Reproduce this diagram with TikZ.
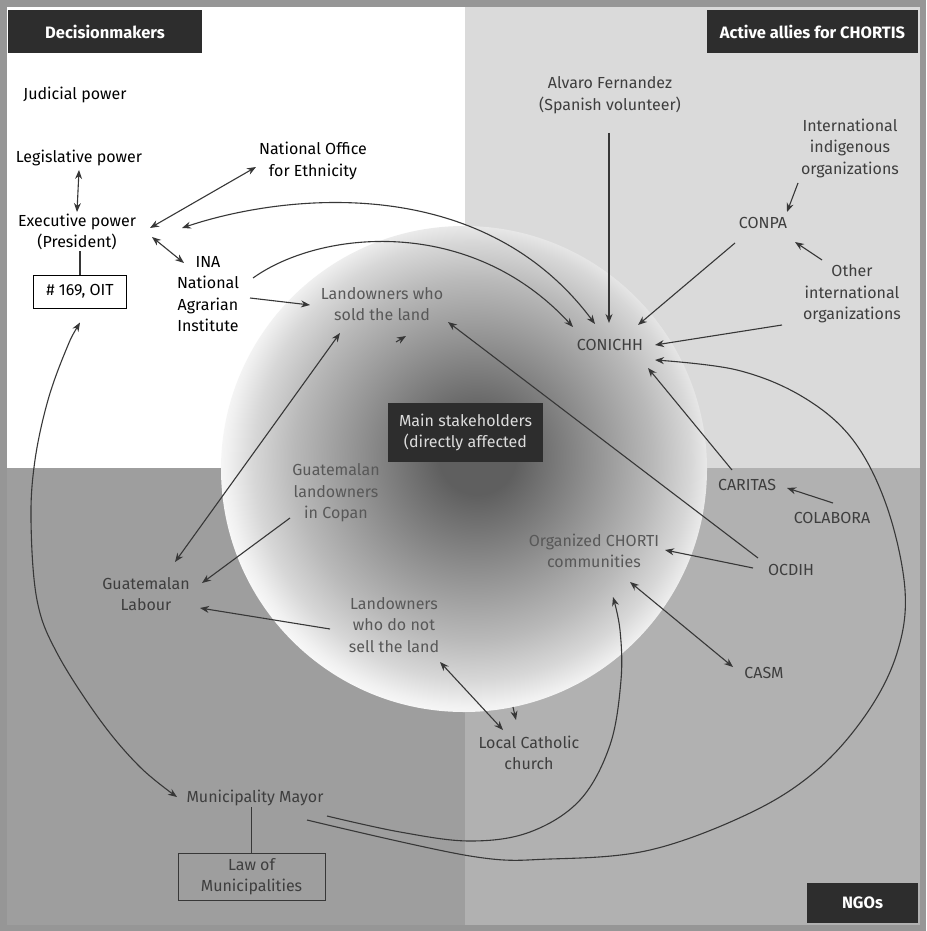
\documentclass[tikz,border=0pt]{standalone}
\usepackage{fontspec}
\setmainfont{Fira Sans}
\usetikzlibrary{arrows.meta,calc}
\definecolor{qtl}{RGB}{255,255,255}
\definecolor{qtr}{RGB}{218,218,218}
\definecolor{qbl}{RGB}{158,158,158}
\definecolor{qbr}{RGB}{177,177,177}
\definecolor{frm}{RGB}{150,150,150}
\definecolor{hdr}{RGB}{45,45,45}
\definecolor{ink}{RGB}{55,55,55}
\definecolor{dtext}{RGB}{62,62,62}
\definecolor{stext}{RGB}{88,88,88}
\definecolor{sphA}{RGB}{95,95,95}
\definecolor{sphB}{RGB}{145,145,145}
\definecolor{sphC}{RGB}{185,185,185}
\definecolor{sphD}{RGB}{215,215,215}
\definecolor{sphE}{RGB}{240,240,240}
\definecolor{mtext}{RGB}{220,220,220}
\pgfdeclareradialshading{sphereshade}{\pgfpoint{1.5bp}{1.5bp}}{color(0bp)=(sphA); color(4bp)=(sphA); color(12bp)=(sphB); color(18.5bp)=(sphC); color(22.5bp)=(sphD); color(25bp)=(sphE); color(27bp)=(white); color(50bp)=(white)}
\tikzset{
  labk/.style={font=\fontsize{16}{21.5}\selectfont, align=center, inner sep=1pt, text=black},
  labd/.style={font=\fontsize{16}{21.5}\selectfont, align=center, inner sep=1pt, text=dtext},
  labs/.style={font=\fontsize{16}{21.5}\selectfont, align=center, inner sep=1pt, text=stext},
  hdrbox/.style={fill=hdr, text=white, font=\bfseries\fontsize{16.5}{18}\selectfont, inner sep=0pt},
  con/.style={draw=ink, line width=1.1pt},
  ar/.style={con, -{Stealth[length=9pt,width=7pt]}},
  arr/.style={con, {Stealth[length=9pt,width=7pt]}-{Stealth[length=9pt,width=7pt]}},
}
\begin{document}
\begin{tikzpicture}[x=1pt,y=-1pt]
\useasboundingbox (0,0) rectangle (926,931);
% background and quadrants
\fill[frm] (0,0) rectangle (926,931);
\fill[qtl] (7,7) rectangle (465,468);
\fill[qtr] (465,7) rectangle (920,468);
\fill[qbl] (7,468) rectangle (465,925);
\fill[qbr] (465,468) rectangle (920,925);
% sphere
\shade[shading=sphereshade] (464,469) circle (243);
% headers
\node[hdrbox, minimum width=194, minimum height=43] (hdm) at (105,31.5) {Decisionmakers};
\node[hdrbox, minimum width=211, minimum height=43] (hal) at (812.5,31.5) {Active allies for CHORTIS};
\node[hdrbox, minimum width=111, minimum height=40] (hng) at (862.5,903) {NGOs};
\node[fill=hdr, text=mtext, font=\fontsize{16}{21.5}\selectfont, align=center, minimum width=155, minimum height=59, inner sep=0pt] (main) at (465.5,432.5) {Main stakeholders\\(directly affected};
% top-left nodes
\node[labk] (jud) at (75,95) {Judicial power};
\node[labk] (leg) at (79,158) {Legislative power};
\node[labk] (exe) at (77,232) {Executive power\\(President)};
\node[labk, draw=black, line width=1pt, fill=white, minimum width=93, minimum height=33] (oit) at (80,291.5) {\# 169, OIT};
\node[labk] (nof) at (313,161) {National Office\\for Ethnicity};
\node[labk] (ina) at (208,294) {INA\\National\\Agrarian\\Institute};
% top-right nodes
\node[labd] (alv) at (610,95) {Alvaro Fernandez\\(Spanish volunteer)};
\node[labd] (iio) at (850,148) {International\\indigenous\\organizations};
\node[labd] (conpa) at (763,223) {CONPA};
\node[labd] (oio) at (852,294) {Other\\international\\organizations};
\node[labd] (conichh) at (610,345) {CONICHH};
% sphere nodes
\node[labs] (lsold) at (382,304) {Landowners who\\sold the land};
\node[labs] (copan) at (336,493) {Guatemalan\\landowners\\in Copan};
\node[labs] (chorti) at (594,551) {Organized CHORTI\\communities};
\node[labs] (lnot) at (394,625) {Landowners\\who do not\\sell the land};
% bottom-left nodes
\node[labd] (labour) at (146,594) {Guatemalan\\Labour};
\node[labd] (mayor) at (255,798) {Municipality Mayor};
\node[labd, draw=ink, line width=1pt, minimum width=147, minimum height=47] (law) at (251.5,876.5) {Law of\\Municipalities};
% bottom-right nodes
\node[labd] (caritas) at (747,485) {CARITAS};
\node[labd] (colabora) at (832,518) {COLABORA};
\node[labd] (ocdih) at (791,570) {OCDIH};
\node[labd] (casm) at (764,673) {CASM};
\node[labd] (church) at (529,753) {Local Catholic\\church};
% plain links
\draw[con] (oit.north) -- (oit.north |- exe.south);
\draw[con] (law.north) -- (law.north |- mayor.south);
% arrows top-left
\draw[arr] ([shift={(0,12)}]leg.center) -- ([shift={(0,-20)}]exe.center);
\draw[arr] ([shift={(73,-4)}]exe.center) -- ([shift={(-57,6)}]nof.center);
\draw[arr] ([shift={(75,5)}]exe.center) -- ([shift={(-24,-31)}]ina.center);
\draw[arr] ([shift={(105,-4)}]exe.center) .. controls (280,195) and (480,170) .. ([shift={(-15,-21)}]conichh.center);
\draw[ar] ([shift={(45,-16)}]ina.center) .. controls (320,230) and (470,215) .. ([shift={(-37,-18)}]conichh.center);
\draw[ar] ([shift={(42,4)}]ina.center) -- ([shift={(-72,1)}]lsold.center);
% stray arrowheads
\draw[ar] ([shift={(14,38)}]lsold.center) -- ([shift={(24,32)}]lsold.center);
\draw[ar] ([shift={(-16,-46)}]church.center) -- ([shift={(-13,-33)}]church.center);
% arrows top-right
\draw[ar] ([shift={(-1,38)}]alv.center) -- ([shift={(-1,-22)}]conichh.center);
\draw[ar] ([shift={(-52,35)}]iio.center) -- ([shift={(24,-11)}]conpa.center);
\draw[ar] ([shift={(-30,-34)}]oio.center) -- ([shift={(32,19)}]conpa.center);
\draw[ar] ([shift={(-28,20)}]conpa.center) -- ([shift={(28,-20)}]conichh.center);
\draw[ar] ([shift={(-70,31)}]oio.center) -- ([shift={(45,0)}]conichh.center);
% arrows bottom-right
\draw[ar] ([shift={(-15,-15)}]caritas.center) -- ([shift={(38,23)}]conichh.center);
\draw[ar] ([shift={(1,-15)}]colabora.center) -- ([shift={(40,3)}]caritas.center);
\draw[ar] ([shift={(-33,-12)}]ocdih.center) -- ([shift={(66,18)}]lsold.center);
\draw[ar] ([shift={(-38,-2)}]ocdih.center) -- ([shift={(71,-1)}]chorti.center);
\draw[arr] ([shift={(36,31)}]chorti.center) -- ([shift={(-31,-6)}]casm.center);
\draw[arr] ([shift={(46,37)}]lnot.center) -- ([shift={(-26,-23)}]church.center);
% arrows bottom-left
\draw[ar] ([shift={(-64,4)}]lnot.center) -- ([shift={(54,14)}]labour.center);
\draw[ar] ([shift={(-46,25)}]copan.center) -- ([shift={(56,-11)}]labour.center);
\draw[arr] ([shift={(29,-32)}]labour.center) -- ([shift={(-42,29)}]lsold.center);
% long curves
\draw[arr] plot[smooth, tension=0.6] coordinates {([shift={(0,31)}]oit.center) (66,350) (48,400) (35,460) (31,520) (37,600) (57,653) (100,720) (140,767) ([shift={(-78,-1)}]mayor.center)};
\draw[ar] plot[smooth, tension=0.6] coordinates {([shift={(72,18)}]mayor.center) (400,832) (470,841) (530,832) (580,800) (610,745) (621,680) (620,630) ([shift={(19,46)}]chorti.center)};
\draw[ar] plot[smooth, tension=0.6] coordinates {([shift={(52,22)}]mayor.center) (470,856) (550,859) (650,850) (750,813) (817,770) (867,713) (897,653) (905,590) (887,507) (853,440) (803,397) (737,370) ([shift={(45,15)}]conichh.center)};
\end{tikzpicture}
\end{document}
